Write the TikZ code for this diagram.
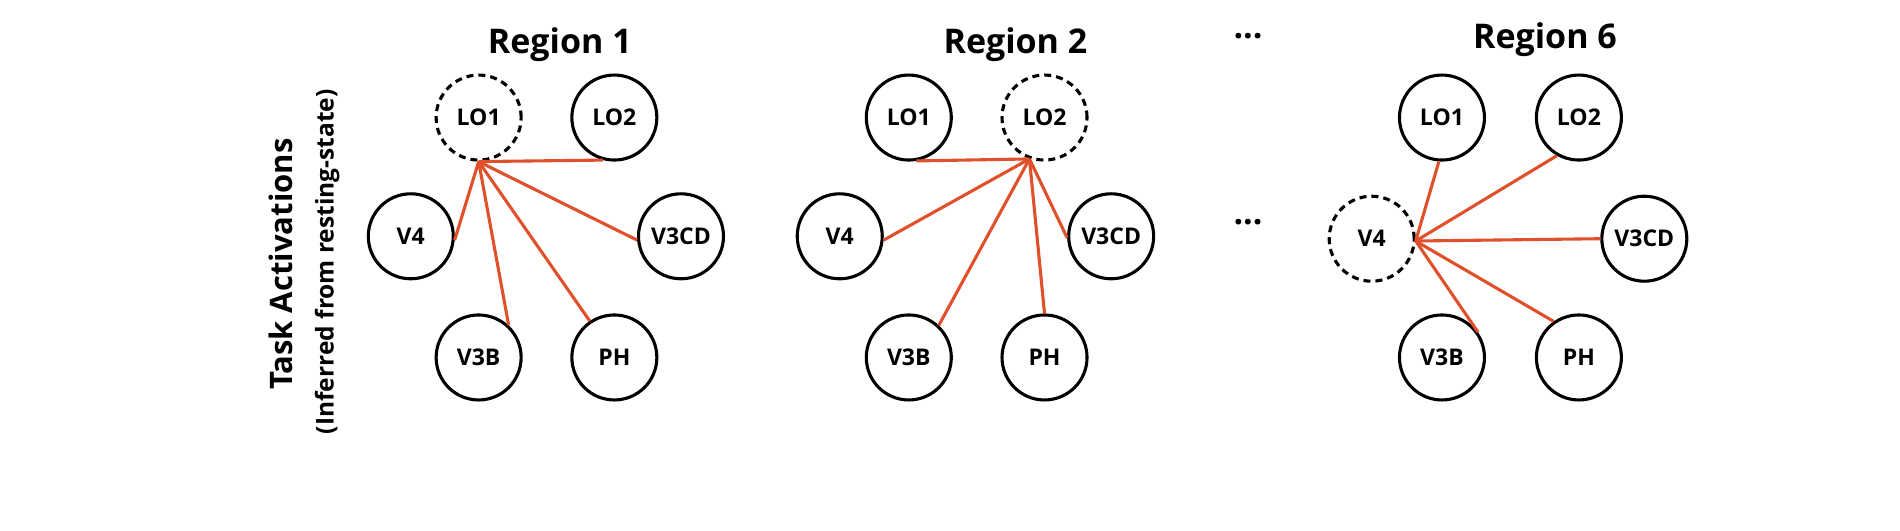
\documentclass[tikz,border=0pt]{standalone}
\usepackage{fontspec}
\setmainfont{Open Sans}
\definecolor{ered}{HTML}{E0502A}
\begin{document}
\begin{tikzpicture}[x=1.2117pt,y=-1.2117pt,
  rn/.style={circle,draw,line width=3.1pt,minimum size=85pt,inner sep=0pt,font=\fontsize{23}{24}\selectfont\bfseries},
  dn/.style={rn,dash pattern=on 7pt off 5pt},
  ed/.style={draw=ered,line width=3.1pt},
  tt/.style={font=\fontsize{34}{36}\selectfont\bfseries}]
\useasboundingbox (0,0) rectangle (1568,437.4);
\node[rotate=90,font=\fontsize{31}{33}\selectfont\bfseries] (ta) at (232,218) {Task Activations};
\node[rotate=90,font=\fontsize{24.5}{26}\selectfont\bfseries] (inf) at (270,216) {(Inferred from resting-state)};
% Region 1
\node[tt] (t1) at (462,37) {Region 1};
\node[dn] (a1) at (395,97) {LO1};
\node[rn] (a2) at (507,97) {LO2};
\node[rn] (a3) at (339,195) {V4};
\node[rn] (a4) at (562,195) {V3CD};
\node[rn] (a5) at (395,295) {V3B};
\node[rn] (a6) at (507,295) {PH};
\draw[ed] (a1.270) -- (a2.255);
\draw[ed] (a1.270) -- (a3.355);
\draw[ed] (a1.270) -- (a4.185);
\draw[ed] (a1.270) -- (a5.47);
\draw[ed] (a1.270) -- (a6.124);
% Region 2
\node[tt] (t2) at (838,37) {Region 2};
\node[rn] (b1) at (750,97) {LO1};
\node[dn] (b2) at (862,97) {LO2};
\node[rn] (b3) at (693,195) {V4};
\node[rn] (b4) at (917,195) {V3CD};
\node[rn] (b5) at (750,295) {V3B};
\node[rn] (b6) at (862,295) {PH};
\draw[ed] (b2.250) -- (b1.280);
\draw[ed] (b2.250) -- (b3.355);
\draw[ed] (b2.250) -- (b4.182);
\draw[ed] (b2.250) -- (b5.47);
\draw[ed] (b2.250) -- (b6.90);
% dots
\node[tt] (d1) at (1030,30) {...};
\node[tt] (d2) at (1030,183) {...};
% Region 6
\node[tt] (t6) at (1275,33) {Region 6};
\node[rn] (c1) at (1190,97) {LO1};
\node[rn] (c2) at (1303,97) {LO2};
\node[dn] (c3) at (1132,197) {V4};
\node[rn] (c4) at (1357,197) {V3CD};
\node[rn] (c5) at (1190,295) {V3B};
\node[rn] (c6) at (1303,295) {PH};
\draw[ed] (c3.357) -- (c1.266);
\draw[ed] (c3.357) -- (c2.240);
\draw[ed] (c3.357) -- (c4.180);
\draw[ed] (c3.357) -- (c5.35);
\draw[ed] (c3.357) -- (c6.125);
\end{tikzpicture}
\end{document}
